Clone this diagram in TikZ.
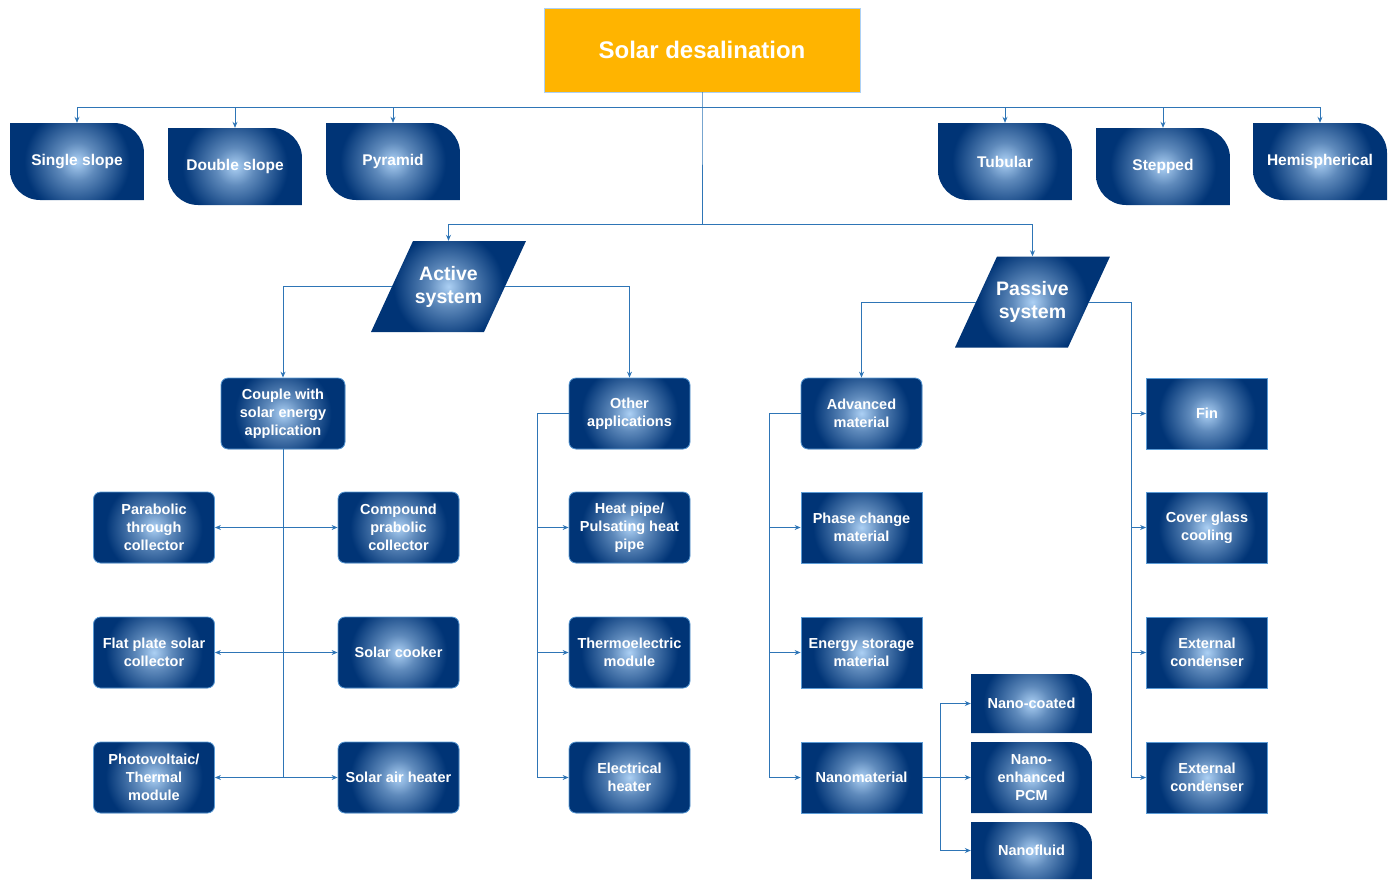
\documentclass[tikz,border=0pt]{standalone}
\usepackage{fontspec}
\setmainfont{Liberation Sans}
\usetikzlibrary{arrows.meta}

\definecolor{navyblue}{RGB}{0,52,118}
\definecolor{glowblue}{RGB}{172,208,244}
\definecolor{edgeblue}{RGB}{91,155,213}
\definecolor{lineblue}{RGB}{46,117,182}
\definecolor{titleorange}{RGB}{255,180,0}

\pgfdeclareradialshading{glowshade}{\pgfpoint{0bp}{0bp}}{color(0bp)=(glowblue);
    color(4bp)=(glowblue!55!navyblue); color(11bp)=(navyblue); color(50bp)=(navyblue)}

\newcommand{\boxfont}{\fontsize{14.5}{18}\selectfont\bfseries}
\newcommand{\topfont}{\fontsize{15.5}{19}\selectfont\bfseries}
\newcommand{\sysfont}{\fontsize{19.5}{23}\selectfont\bfseries}
\newcommand{\headfont}{\fontsize{24}{28}\selectfont\bfseries}

% glow square of half side #1 round the centre of a shape
\newcommand{\glowat}[1]{\shade[shading=glowshade]
    ([shift={(-#1,-#1)}]path picture bounding box.center) rectangle
    ([shift={(#1,#1)}]path picture bounding box.center);}

\tikzset{
    conn/.style={draw=lineblue, line width=0.9pt},
    arr/.style={conn, -{Stealth[length=6pt,width=5pt]}},
    dblarr/.style={conn, {Stealth[length=6pt,width=5pt]}-{Stealth[length=6pt,width=5pt]}},
    box/.style={rectangle, rounded corners=7pt, fill=navyblue, draw=edgeblue, line width=0.8pt,
        minimum width=121pt, minimum height=71pt, inner sep=0pt, align=center,
        text=white, font=\boxfont, path picture={\glowat{110pt}}},
    sqbox/.style={box, sharp corners},
    % rounded top right and bottom left
    topshape/.style={rectangle, minimum width=134pt, minimum height=77pt, inner sep=0pt,
        align=center, text=white, font=\topfont, path picture={
        \begin{scope}
            \clip (path picture bounding box.north west)
                -- ([xshift=-30pt]path picture bounding box.north east)
                arc[start angle=90, end angle=0, radius=30pt]
                -- (path picture bounding box.south east)
                -- ([xshift=30pt]path picture bounding box.south west)
                arc[start angle=270, end angle=180, radius=30pt] -- cycle;
            \glowat{120pt}
        \end{scope}}},
    % rounded top right only
    nanoshape/.style={rectangle, minimum width=121pt, minimum height=#1, inner sep=0pt,
        align=center, text=white, font=\boxfont, path picture={
        \begin{scope}
            \clip (path picture bounding box.north west)
                -- ([xshift=-22pt]path picture bounding box.north east)
                arc[start angle=90, end angle=0, radius=22pt]
                -- (path picture bounding box.south east)
                -- (path picture bounding box.south west) -- cycle;
            \glowat{110pt}
        \end{scope}}},
    sysshape/.style={rectangle, minimum width=155pt, minimum height=91pt, inner sep=0pt,
        align=center, text=white, font=\sysfont, path picture={
        \begin{scope}
            \clip (path picture bounding box.south west)
                -- ([xshift=113pt]path picture bounding box.south west)
                -- (path picture bounding box.north east)
                -- ([xshift=-113pt]path picture bounding box.north east) -- cycle;
            \glowat{125pt}
        \end{scope}}},
}

\begin{document}
\begin{tikzpicture}[x=1pt, y=1pt]
    \useasboundingbox (0,0) rectangle (1393,-879);

    \node[rectangle, fill=titleorange, draw=glowblue, line width=0.8pt, minimum width=316pt,
        minimum height=84pt, text=white, font=\headfont] (sd) at (702,-50) {Solar desalination};

    % still types
    \node[topshape] (ss) at (77,-161.5) {Single slope};
    \node[topshape] (ds) at (235,-166.5) {Double slope};
    \node[topshape] (py) at (393,-161.5) {Pyramid};
    \node[topshape] (tu) at (1005,-161.5) {Tubular};
    \node[topshape] (st) at (1163,-166.5) {Stepped};
    \node[topshape] (he) at (1320,-161.5) {Hemispherical};

    \node[sysshape] (act) at (448.5,-286.5) {Active\\system};
    \node[sysshape] (pas) at (1032.5,-302) {Passive\\system};

    % active branch
    \node[box, minimum width=124pt] (cpl) at (283,-413.5) {Couple with\\solar energy\\application};
    \node[box] (ptc) at (154,-527.5) {Parabolic\\through\\collector};
    \node[box] (cpc) at (398.5,-527.5) {Compound\\prabolic\\collector};
    \node[box] (fpc) at (154,-652.5) {Flat plate solar\\collector};
    \node[box] (sck) at (398.5,-652.5) {Solar cooker};
    \node[box] (pvt) at (154,-777.5) {Photovoltaic/\\Thermal\\module};
    \node[box] (sah) at (398.5,-777.5) {Solar air heater};

    \node[box] (oth) at (629.5,-413.5) {Other\\applications};
    \node[box] (hpp) at (629.5,-527.5) {Heat pipe/\\Pulsating heat\\pipe};
    \node[box] (tem) at (629.5,-652.5) {Thermoelectric\\module};
    \node[box] (elh) at (629.5,-777.5) {Electrical\\heater};

    % passive branch
    \node[box] (adv) at (861.5,-413.5) {Advanced\\material};
    \node[sqbox] (pcm) at (861.5,-527.5) {Phase change\\material};
    \node[sqbox] (esm) at (861.5,-652.5) {Energy storage\\material};
    \node[sqbox] (nan) at (861.5,-777.5) {Nanomaterial};

    \node[nanoshape=59pt] (nco) at (1031.5,-703.5) {Nano-coated};
    \node[nanoshape=71pt] (nep) at (1031.5,-777.5) {Nano-\\enhanced\\PCM};
    \node[nanoshape=57pt] (nfl) at (1031.5,-850.5) {Nanofluid};

    \node[sqbox] (fin) at (1207,-413.5) {Fin};
    \node[sqbox] (cgc) at (1207,-527.5) {Cover glass\\cooling};
    \node[sqbox] (ec1) at (1207,-652.5) {External\\condenser};
    \node[sqbox] (ec2) at (1207,-777.5) {External\\condenser};

    % bus points
    \coordinate (tbus) at (702,-107);
    \coordinate (mbus) at (702,-224);
    \coordinate (obus) at (537,-777.5);
    \coordinate (abus) at (769,-777.5);
    \coordinate (nbus) at (940,-777.5);
    \coordinate (pbus) at (1131,-777.5);

    \draw[conn] (sd.south) -- (tbus) -- (mbus);
    \foreach \n in {ss,ds,py,tu,st,he}
        \draw[arr] (tbus) -| (\n.north);
    \draw[arr] (mbus) -| (act.north);
    \draw[arr] (mbus) -| (pas.north);

    \draw[arr] ([xshift=21pt]act.west) -| (cpl.north);
    \draw[arr] ([xshift=-21pt]act.east) -| (oth.north);
    \draw[arr] ([xshift=21pt]pas.west) -| (adv.north);
    \draw[conn] ([xshift=-21pt]pas.east) -| (pbus);

    \draw[conn] (cpl.south) -- (cpl.south |- pvt);
    \draw[dblarr] (ptc) -- (cpc);
    \draw[dblarr] (fpc) -- (sck);
    \draw[dblarr] (pvt) -- (sah);

    \draw[conn] (oth.west) -| (obus);
    \foreach \n in {hpp,tem,elh}
        \draw[arr] (obus |- \n) -- (\n);

    \draw[conn] (adv.west) -| (abus);
    \foreach \n in {pcm,esm,nan}
        \draw[arr] (abus |- \n) -- (\n);

    \draw[conn] (nan) -- (nbus);
    \draw[conn] (nbus |- nco) -- (nbus |- nfl);
    \foreach \n in {nco,nep,nfl}
        \draw[arr] (nbus |- \n) -- (\n);

    \foreach \n in {fin,cgc,ec1,ec2}
        \draw[arr] (pbus |- \n) -- (\n);
\end{tikzpicture}
\end{document}
